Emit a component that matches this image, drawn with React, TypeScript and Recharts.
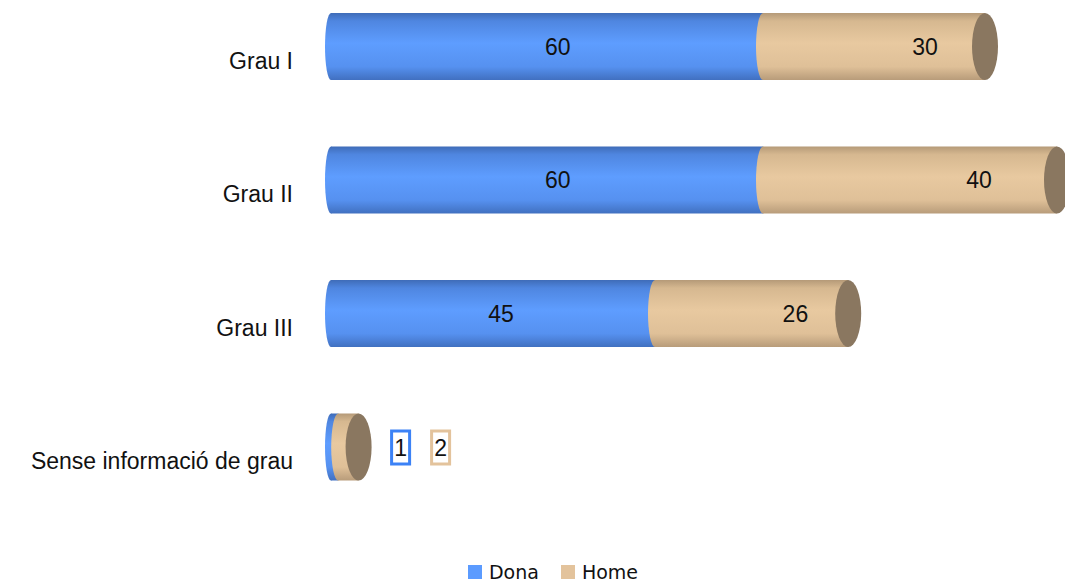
import { Bar, BarChart, LabelList, Legend, XAxis, YAxis } from "recharts";

const categories = ["Grau I", "Grau II", "Grau III", "Sense informació de grau"];
const dona = [60, 60, 45, 1];
const home = [30, 40, 26, 2];
const seriesNames = ["Dona", "Home"];

const BLUE = "#5b9bff";
const TAN = "#e3c39c";
const CAP = "#8a7760";

const data = categories.map((name, i) => ({ name, Dona: dona[i], Home: home[i] }));

function DonaShape(props: any) {
  const { x, y, width, height } = props;
  return (
    <g>
      <rect x={x} y={y} width={width} height={height} fill="url(#gDona)" />
      <ellipse cx={x} cy={y + height / 2} rx={6} ry={height / 2} fill="url(#gDona)" />
    </g>
  );
}

function HomeShape(props: any) {
  const { x, y, width, height } = props;
  const end = x + width + 6;
  return (
    <g>
      <ellipse cx={x} cy={y + height / 2} rx={7} ry={height / 2} fill="url(#gHome)" />
      <rect x={x} y={y} width={end - x} height={height} fill="url(#gHome)" />
      <ellipse cx={end} cy={y + height / 2} rx={13} ry={height / 2} fill={CAP} />
    </g>
  );
}

function makeLabel(series: "Dona" | "Home") {
  return (props: any) => {
    const vb = props.viewBox || props;
    const x = vb.x ?? props.x;
    const y = vb.y ?? props.y;
    const width = vb.width ?? props.width;
    const height = vb.height ?? props.height;
    const { value, index } = props;
    const cy = y + height / 2;
    if (width < 40) {
      // too thin: put a boxed label to the right of the stack
      const unit = width / value;
      const end = series === "Dona" ? x + width + home[index] * unit : x + width;
      const cx = series === "Dona" ? end + 48 : end + 88;
      const col = series === "Dona" ? "#3c82f6" : TAN;
      return (
        <g>
          <rect x={cx - 9} y={cy - 16} width={18} height={33} fill="#fff" stroke={col} strokeWidth={3} />
          <text x={cx} y={cy + 1} textAnchor="middle" dominantBaseline="central"
            fontFamily="Liberation Sans, Arial, sans-serif" fontSize={23} fill="#111">
            {value}
          </text>
        </g>
      );
    }
    const k = series === "Dona" ? 0.525 : 0.75;
    return (
      <text x={x + width * k} y={cy} textAnchor="middle" dominantBaseline="central"
        fontFamily="Liberation Sans, Arial, sans-serif" fontSize={23} fill="#111">
        {value}
      </text>
    );
  };
}

function CategoryTick(props: any) {
  const { x, y, payload } = props;
  return (
    <text x={x} y={y + 14} textAnchor="end" dominantBaseline="central"
      fontFamily="Liberation Sans, Arial, sans-serif" fontSize={23} fill="#111">
      {payload.value}
    </text>
  );
}

function LegendContent() {
  const cols = [BLUE, TAN];
  return (
    <div style={{ display: "flex", justifyContent: "center", alignItems: "center", lineHeight: "24px" }}>
      {seriesNames.map((n, i) => (
        <div key={n} style={{ display: "flex", alignItems: "center", marginRight: i === 0 ? 22 : 0 }}>
          <span style={{ display: "inline-block", width: 14, height: 14, background: cols[i], marginRight: 7 }} />
          <span style={{ fontFamily: "DejaVu Sans, sans-serif", fontSize: 19, color: "#111" }}>{n}</span>
        </div>
      ))}
    </div>
  );
}

export default function App() {
  return (
    <div style={{ position: "absolute", top: 0, left: 0, width: 1065, height: 583, background: "#fff", overflow: "hidden" }}>
      <BarChart
        width={1065}
        height={583}
        data={data}
        layout="vertical"
        margin={{ top: -20, right: 14, bottom: 69, left: 0 }}
        barSize={67}
      >
        <defs>
          <linearGradient id="gDona" x1="0" y1="0" x2="0" y2="1">
            <stop offset="0%" stopColor="#3f6cb8" />
            <stop offset="12%" stopColor="#4f86e0" />
            <stop offset="45%" stopColor="#5e9dff" />
            <stop offset="80%" stopColor="#5691f0" />
            <stop offset="100%" stopColor="#4170c0" />
          </linearGradient>
          <linearGradient id="gHome" x1="0" y1="0" x2="0" y2="1">
            <stop offset="0%" stopColor="#b59a78" />
            <stop offset="12%" stopColor="#d6b890" />
            <stop offset="45%" stopColor="#e8c9a0" />
            <stop offset="80%" stopColor="#dfc098" />
            <stop offset="100%" stopColor="#b89c7a" />
          </linearGradient>
        </defs>
        <XAxis type="number" domain={[0, 100]} hide />
        <YAxis
          type="category"
          dataKey="name"
          width={331}
          axisLine={false}
          tickLine={false}
          tickSize={0}
          tickMargin={38}
          tick={CategoryTick}
          interval={0}
        />
        <Legend verticalAlign="middle" content={LegendContent} wrapperStyle={{ top: 560, left: 0, width: 1106 }} />
        <Bar dataKey="Dona" stackId="g" fill={BLUE} shape={DonaShape} isAnimationActive={false}>
          <LabelList dataKey="Dona" content={makeLabel("Dona")} />
        </Bar>
        <Bar dataKey="Home" stackId="g" fill={TAN} shape={HomeShape} isAnimationActive={false}>
          <LabelList dataKey="Home" content={makeLabel("Home")} />
        </Bar>
      </BarChart>
    </div>
  );
}
